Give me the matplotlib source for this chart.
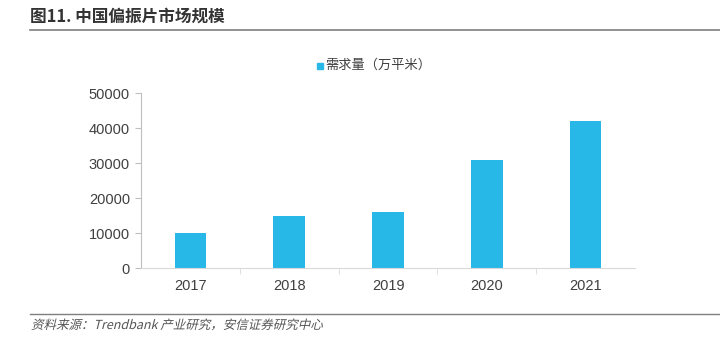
import matplotlib
matplotlib.use("Agg")
import matplotlib.pyplot as plt
from matplotlib.lines import Line2D
from matplotlib.patches import Rectangle, PathPatch
from matplotlib.textpath import TextPath
from matplotlib.font_manager import FontProperties
from matplotlib.transforms import Affine2D

years = ["2017", "2018", "2019", "2020", "2021"]
demand = [10000, 15000, 16000, 31000, 42000]
yticks = [0, 10000, 20000, 30000, 40000, 50000]

title = "图11. 中国偏振片市场规模"
legend_label = "需求量（万平米）"
source = "资料来源：Trendbank 产业研究，安信证券研究中心"

cjk = ["Noto Sans CJK SC", "DejaVu Sans"]
num = ["Liberation Sans", "Noto Sans CJK SC"]
bar_color = "#27B8E8"
text_color = "#404040"
W, H, DPI = 720, 341, 100

fig = plt.figure(figsize=(W / DPI, H / DPI), dpi=DPI)
ax = fig.add_axes([0.196, 0.214, 0.686, 0.513])

x = range(len(years))
ax.bar(x, demand, width=0.32, color=bar_color, zorder=2)
ax.set_xlim(-0.5, len(years) - 0.5)
ax.set_ylim(0, 50000)
ax.set_yticks(yticks)
ax.set_yticklabels([str(v) for v in yticks], family=num, fontsize=10.5, color=text_color)
ax.set_xticks(list(x))
ax.set_xticklabels(years, family=num, fontsize=10.5, color=text_color)
ax.tick_params(axis="x", length=0, pad=8)
ax.tick_params(axis="y", length=4, color="#bfbfbf", pad=4)
ax.set_xticks([i + 0.5 for i in range(len(years) - 1)], minor=True)
ax.tick_params(axis="x", which="minor", length=4, color="#d9d9d9", direction="out")

for side in ["top", "right"]:
    ax.spines[side].set_visible(False)
ax.spines["left"].set_color("#bfbfbf")
ax.spines["bottom"].set_color("#d9d9d9")

# legend
fig.patches.append(Rectangle((317 / W, 1 - 69 / H), 6 / W, 6 / H,
                             transform=fig.transFigure, color=bar_color))
fig.text(325 / W, 1 - 65 / H, legend_label, family=cjk, fontsize=9.5,
         color=text_color, va="center", ha="left")

# title and rules
fig.text(30 / W, 1 - 17 / H, title, family=cjk, fontsize=12,
         fontweight="bold", color="#333333", va="center", ha="left")
fig.lines.append(Line2D([30 / W, 1], [1 - 30 / H, 1 - 30 / H],
                        transform=fig.transFigure, color="#7f7f7f", lw=1.2))
fig.lines.append(Line2D([30 / W, 1], [1 - 314 / H, 1 - 314 / H],
                        transform=fig.transFigure, color="#7f7f7f", lw=1.0))

# slanted source note (CJK font has no italic, so shear the glyph outlines)
src_path = TextPath((0, 0), source, size=9, prop=FontProperties(family="Noto Sans CJK SC"))
src_tf = Affine2D().scale(DPI / 72).skew_deg(14, 0).translate(31, H - 329)
fig.patches.append(PathPatch(src_path, transform=src_tf, color="#555555", lw=0))

fig.savefig("out.png", dpi=DPI)
